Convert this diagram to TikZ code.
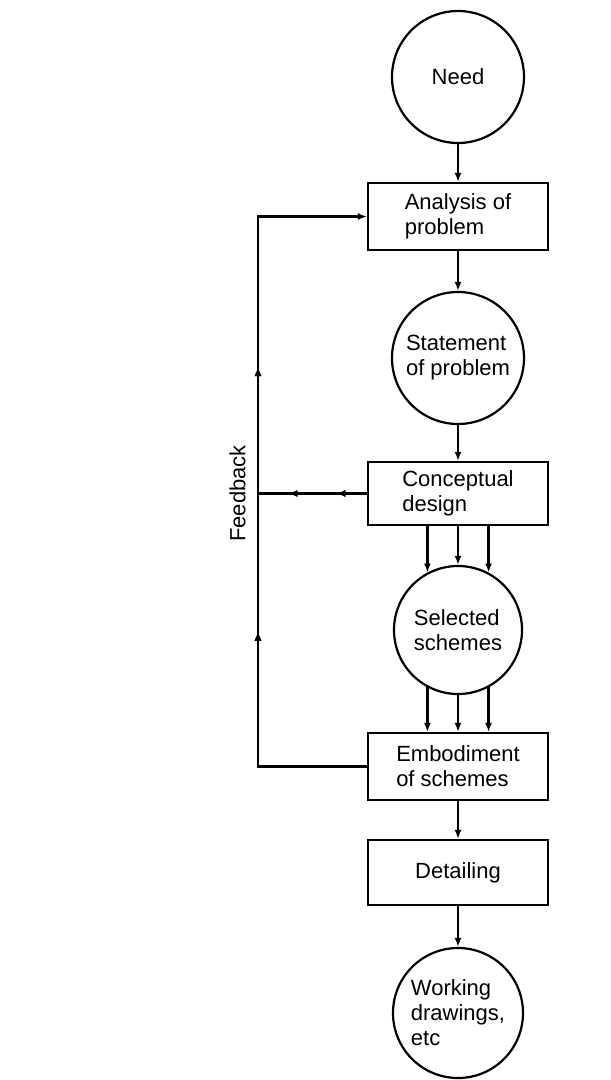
\documentclass[tikz,border=0pt]{standalone}
\usepackage{fontspec}
\setmainfont{Liberation Sans}
\usetikzlibrary{arrows.meta,decorations.markings}

\tikzset{
    stage/.style={draw, line width=1.1pt, minimum width=90pt, minimum height=33pt,
        align=left, inner sep=2pt, font=\fontsize{11}{12.5}\selectfont},
    event/.style={draw, circle, line width=1.1pt, minimum size=66pt, inner sep=0pt,
        align=left, font=\fontsize{11}{12.5}\selectfont},
    flow/.style={line width=1.1pt, -{Latex[length=4.5pt,width=3.5pt]}},
    midarrows/.style={postaction={decorate}, decoration={markings,
        mark=at position #1 with {\arrow{Latex[length=4.5pt,width=3.5pt]}}}}
}

\begin{document}
\begin{tikzpicture}[x=0.5pt, y=-0.5pt]
    \useasboundingbox (0,0) rectangle (610,1080);

    \node[event] (need) at (458,77) {Need};
    \node[stage, minimum height=33.5pt] (ana) at (458,216.5) {Analysis of\\problem};
    \node[event] (sta) at (458,358) {Statement\\of problem};
    \node[stage, minimum height=31.5pt] (con) at (458,493.5) {Conceptual\\design};
    \node[event, minimum size=64pt] (sel) at (458,630) {Selected\\schemes};
    \node[stage, minimum height=33.5pt] (emb) at (458,766.5) {Embodiment\\of schemes};
    \node[stage, minimum height=32.5pt] (det) at (458,872.5) {Detailing};
    \node[event, minimum size=65pt] (wor) at (458,1013) {Working\\drawings,\\etc};

    % main chain
    \draw[flow] (need) -- (ana);
    \draw[flow] (ana) -- (sta);
    \draw[flow] (sta) -- (con);
    \foreach \ang in {118,90,62}
        \draw[flow] (sel.\ang |- con.south) -- (sel.\ang);
    \foreach \ang in {-118,-90,-62}
        \draw[flow] (sel.\ang) -- (sel.\ang |- emb.north);
    \draw[flow] (emb) -- (det);
    \draw[flow] (det) -- (wor);

    % feedback loop
    \coordinate (fbtop) at (258,216.5);
    \draw[flow] (emb.west) -| (fbtop) -- (ana.west);
    \path[midarrows=0.245, midarrows=0.726] (emb.west -| fbtop) -- (fbtop);
    \draw[line width=1.1pt, midarrows=0.28, midarrows=0.72] (con.west) -- (con.west -| fbtop);
    \node[rotate=90, anchor=south, inner sep=6pt, font=\fontsize{11}{12.5}\selectfont]
        (fbtext) at (con.west -| fbtop) {Feedback};
\end{tikzpicture}
\end{document}
